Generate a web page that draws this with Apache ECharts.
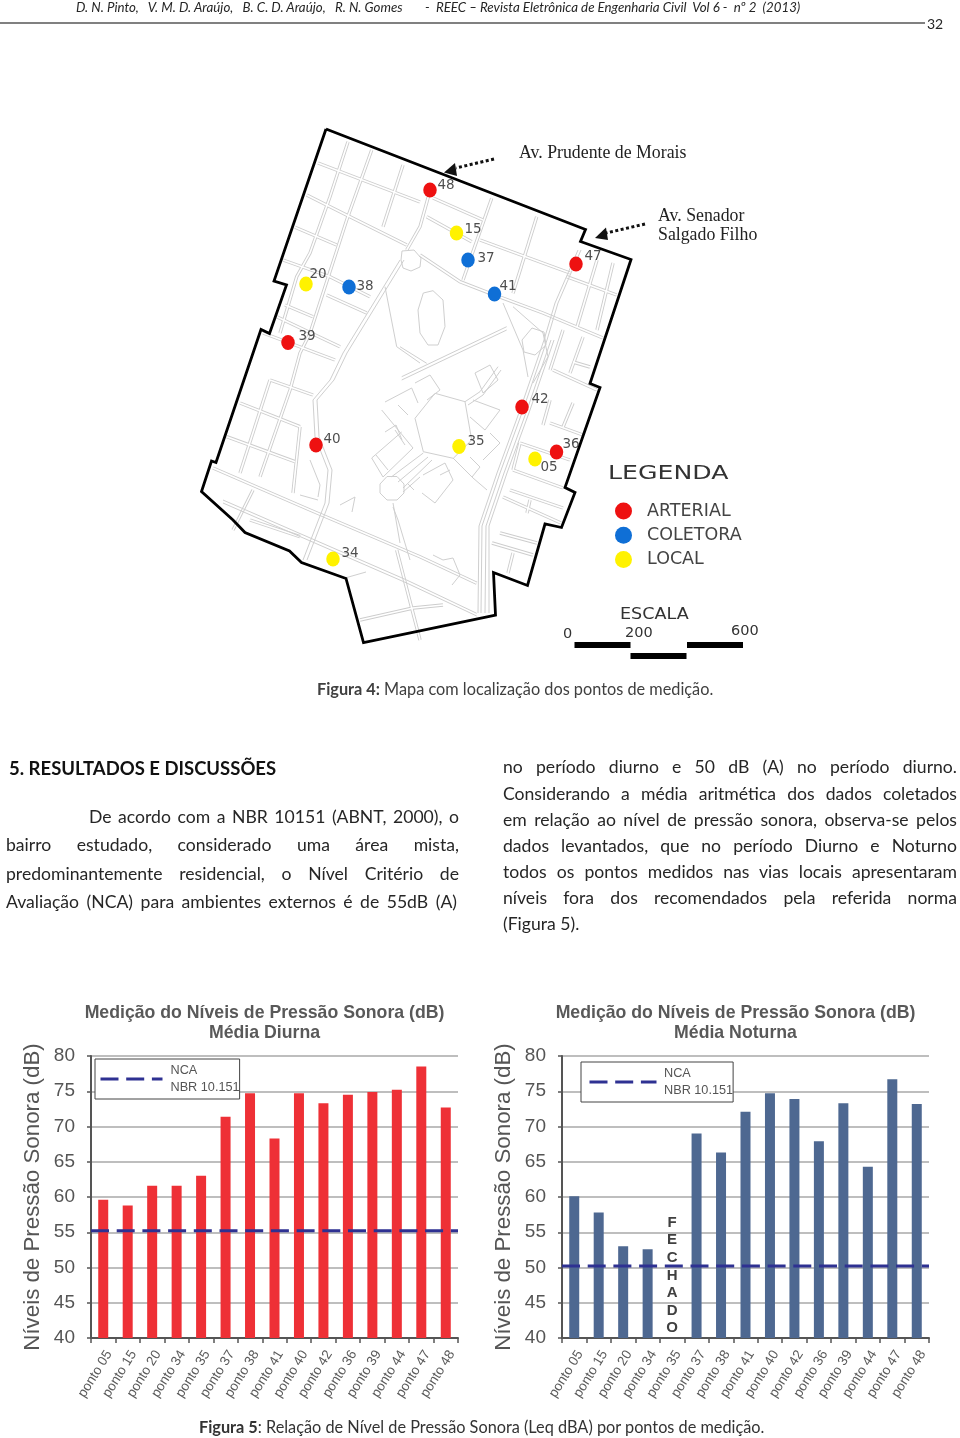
<!DOCTYPE html>
<html>
<head>
<meta charset="utf-8">
<style>
html,body{margin:0;padding:0;background:#fff;}
#page{position:relative;width:960px;height:1438px;overflow:hidden;}
#chart{position:absolute;left:0;top:0;width:960px;height:1438px;}
.ln{position:absolute;height:24px;line-height:24px;font-family:Lato,"Noto Sans",sans-serif;font-size:17.6px;color:#262626;white-space:nowrap;}
.just{text-align:justify;text-align-last:justify;}
</style>
</head>
<body>
<div id="page">
<div id="chart"></div>
</div>
<script src="https://cdn.jsdelivr.net/npm/echarts@6/dist/echarts.min.js"></script>
<script>
// page text
const leftParagraph=[
    "De acordo com a NBR 10151 (ABNT, 2000), o",
    "bairro estudado, considerado uma área mista,",
    "predominantemente residencial, o Nível Critério de",
    "Avaliação (NCA) para ambientes externos é de 55dB (A)"
];
const rightParagraph=[
    "no período diurno e 50 dB (A) no período diurno.",
    "Considerando a média aritmética dos dados coletados",
    "em relação ao nível de pressão sonora, observa-se pelos",
    "dados levantados, que no período Diurno e Noturno",
    "todos os pontos medidos nas vias locais apresentaram",
    "níveis fora dos recomendados pela referida norma",
    "(Figura 5)."
];

// bar charts
const categories=["ponto 05","ponto 15","ponto 20","ponto 34","ponto 35","ponto 37","ponto 38","ponto 41","ponto 40","ponto 42","ponto 36","ponto 39","ponto 44","ponto 47","ponto 48"];
const diurna=[59.6,58.8,61.6,61.6,63.0,71.4,74.7,68.3,74.7,73.3,74.5,74.9,75.2,78.5,72.7];
const noturna=[60.1,57.8,53.0,52.6,null,69.0,66.3,72.1,74.7,73.9,67.9,73.3,64.3,76.7,73.2];
const ncaDiurna=[55.2,55.2];
const ncaNoturna=[50.2,50.2];
const yTicks={min:40,max:80,interval:5};
const NCA_NAME="NCA\nNBR 10.151";

// map, in page pixels
const arterial=[[430,190],[576,264],[288,342.5],[522,407],[316,445],[556.5,452]];
const coletora=[[468,260],[494.5,294],[349,287]];
const local=[[456.5,233],[306,284],[459,446.5],[535,459],[333,559]];
const pointLabels=[
    ["48",446,185],["15",473,229],["37",486,258],["41",508,286],["47",593,256],
    ["20",318,274],["38",365,286],["39",307,336],["42",540,399],["40",332,439],
    ["35",476,441],["36",571,444],["05",549,467],["34",350,553]
];
const outline=[[326,129],[585.5,229.5],[580.5,241.5],[631,259.5],[590,383.5],[600,387.5],[565,487.5],[575,492.5],[561.5,527.5],[545,524],[527.5,585.5],[493.5,572.5],[495.5,615],[363.5,642.5],[346,578.5],[301.5,562.5],[289.5,551],[245,532.5],[233,520],[201.5,491.5],[211.5,461],[216,462.5],[261,329.5],[269.5,333.5],[286.5,285],[274,281],[326,129]];
const roads=[
    [[318,163],[420,202]],
    [[433,198],[483,220]],
    [[306.7,195],[350,216.7],[406.7,245]],
    [[426.7,216.7],[471.7,241.7]],
    [[480,240],[570,273]],
    [[295,227.3],[336.7,245]],
    [[283,260],[330,276.7],[370,296.7]],
    [[276.7,316.7],[340,346.7]],
    [[263,333],[335,360]],
    [[285,305],[313,316.7]],
    [[326.7,295],[366.7,313]],
    [[420,255],[460,281.7],[490,293.3],[543,313],[603,338]],
    [[566.7,276.7],[616.7,295]],
    [[348,141.7],[330,196.7],[310,253],[296.7,276.7],[280,333]],
    [[371.7,150],[346.7,220],[310,333.3],[300,353],[290,390],[260,476.7]],
    [[403,165],[383,226.7]],
    [[491.7,198.3],[463,280]],
    [[536.7,216.7],[513,293.3]],
    [[430,190.7],[420,226.7],[406.7,250]],
    [[270,380],[240,473]],
    [[240,403],[300,426.7]],
    [[226.7,436.7],[295,461.7]],
    [[270,380],[313,395]],
    [[300,426.7],[293,493]],
    [[213,468],[310,510],[420,556.7],[476.7,583.3]],
    [[250,520],[300,536.7]],
    [[396.7,550],[413,613],[420,640]],
    [[360,620],[413,608],[443,605]],
    [[253,490],[233,530]],
    [[513,470],[563,488]],
    [[520,443],[570,460]],
    [[550,423],[583,435]],
    [[510,490],[563,508]],
    [[503,497],[561,523]],
    [[500,533],[537,543]],
    [[492,543],[533,555]],
    [[513,553],[508,573]],
    [[553,370],[597,390]],
    [[573,362],[590,367]],
    [[583,337],[570,373]],
    [[563,330],[550,370]],
    [[613,263],[597,330]],
    [[597,260],[577,327]],
    [[550,400],[543,425]],
    [[573,403],[563,427]],
    [[520,443],[513,470]],
    [[530,500],[527,513]]
];
const paths=[
    [[578,250],[555,303],[544,340],[520,410],[497,473],[479,526],[478,613]],
    [[581,250],[558,303],[547,340],[523,410],[500,473],[482,526],[481,613]],
    [[551,340],[527,410],[504,473],[486,526],[485,613]],
    [[554,340],[530,410],[507,473],[489,526],[489,613]],
    [[400,260],[343,353],[330,380],[313,400],[315,436.7],[328,470],[325,503],[303,560]],
    [[404,260],[347,353],[334,380],[317,400],[319,436.7],[332,470],[329,503],[307,560]],
    [[223,500],[406.7,580],[476.7,613.3]],
    [[223,503],[406.7,583],[476.7,616]],
    [[402,251],[414,250],[421,258],[420,267],[411,271],[403,268],[401,260],[402,251]],
    [[423.3,293],[433,290.7],[443,300],[445,326.7],[438,345],[428,345],[420,333],[418,310],[423.3,293]],
    [[385,286.7],[396.7,346.7],[420,363]],
    [[400,346.7],[426.7,363.3]],
    [[401.7,376.7],[506.7,326.7]],
    [[401.7,380],[506.7,330]],
    [[503,303],[523,350],[528,377]],
    [[513,306.7],[543,333],[548,356.7],[533,383]],
    [[522,340],[532,328],[544,332],[546,345],[535,355],[524,352],[522,340]],
    // campus
    [[415,418.3],[435,393.3],[465,401.7],[471.7,440],[453.3,458.3],[423.3,451.7],[415,418.3]],
    [[423.3,453],[391.7,476.7]],
    [[428,457],[398,482]],
    [[432,460],[403,488]],
    [[380,484],[387,476.5],[397,476.5],[404,484],[404,493],[397,500],[387,500],[380,493],[380,484]],
    [[465,401.7],[480,391.7],[498,366.7]],
    [[468,405],[483,395],[501,370]],
    [[475,373],[490,365],[498,380],[483,393],[475,373]],
    [[453,458],[473,478],[487,490]],
    [[470,457],[480,467],[472,477]],
    [[473,400],[500,410],[485,430],[470,417]],
    [[490,433],[500,443],[483,460]],
    [[381.7,410],[413,448],[383,477],[371.7,458],[401.7,432]],
    [[385,402],[411.7,388],[418,403]],
    [[415,383],[430,375],[440,390],[427,400]],
    [[423,475],[445,463],[453,480],[435,503],[422,493]],
    [[403,492],[420,477]],
    [[393,507],[398,520],[410,560]],
    [[398,405],[408,415]],
    [[405,445],[395,430]],
    [[376,455],[388,470]],
    [[440,475],[450,470]],
    [[385,432],[396,425],[402,440]],
    [[408,484],[414,490]],
    // south of campus
    [[393,503],[400,543]],
    [[433,555],[443,560],[453,558],[460,575],[452,585]],
    [[310,460],[320,485],[318,497]],
    [[300,495],[318,500]],
    [[340,505],[355,497],[352,512]],
    [[345,578],[366,572]]
];
const mapAxis={min:190,max:790};
const mapAyis={min:110,max:670};

const RED="#ee3036",BLUE="#4e6891",AXIS="#555555",GRID="#a8a8a8",NAVY="#2e3192";

function addLine(text,left,width,y,justify,css){
    const d=document.createElement("div");
    d.className="ln"+(justify?" just":"");
    d.style.left=left+"px";
    d.style.top=(y-12)+"px";
    if(width) d.style.width=width+"px";
    if(css) d.style.cssText+=css;
    d.innerHTML=text;
    document.getElementById("page").appendChild(d);
}
addLine("D. N. Pinto,&nbsp;&nbsp; V. M. D. Araújo,&nbsp;&nbsp; B. C. D. Araújo,&nbsp;&nbsp; R. N. Gomes",76,0,7,false,"font-size:13.3px;font-style:italic;");
addLine("-&nbsp; REEC – Revista Eletrônica de Engenharia Civil&nbsp; Vol 6 -&nbsp; nº 2&nbsp; (2013)",425,0,7,false,"font-size:13.3px;font-style:italic;");
addLine("32",927,0,24,false,"font-size:14px;");
addLine("<b>Figura 4:</b> Mapa com localização dos pontos de medição.",317,0,689,false,"font-size:16.3px;color:#404040;");
addLine("<b>5. RESULTADOS E DISCUSSÕES</b>",9,0,768,false,"font-size:18.5px;color:#111;");
[817,845,874,902].forEach((y,i)=>{
    addLine(leftParagraph[i],i==0?89:6,i==0?370:(i==3?451:453),y,true);
});
[767,794,820,846,872,898,924].forEach((y,i)=>{
    addLine(rightParagraph[i],503,i==6?0:454,y,i!=6);
});
addLine("<b>Figura 5</b>: Relação de Nível de Pressão Sonora (Leq dBA) por pontos de medição.",199,0,1427,false,"font-size:16.3px;color:#333;");

function catAxis(gridIndex){
    return {
        type:"category",gridIndex,data:categories,
        axisLine:{lineStyle:{color:AXIS,width:2}},
        axisTick:{show:true,length:5,lineStyle:{color:AXIS,width:1.5}},
        axisLabel:{rotate:58,verticalAlign:"top",fontFamily:"Liberation Sans",fontSize:13.5,color:"#5a5a5a",margin:10,interval:0}
    };
}
function valAxis(gridIndex){
    return {
        type:"value",gridIndex,min:yTicks.min,max:yTicks.max,interval:yTicks.interval,
        name:"Níveis de Pressão Sonora (dB)",nameLocation:"middle",nameRotate:90,nameGap:47,
        nameTextStyle:{fontFamily:"Liberation Sans",fontSize:22.3,color:AXIS},
        axisLine:{show:true,lineStyle:{color:AXIS,width:2}},
        axisTick:{show:true,length:4,lineStyle:{color:AXIS,width:1.5}},
        axisLabel:{fontFamily:"Liberation Sans",fontSize:19,color:AXIS,margin:16},
        splitLine:{show:true,lineStyle:{color:GRID,width:1.6}}
    };
}
function ncaSeries(xAxisIndex,yAxisIndex,data){
    return {
        type:"line",name:NCA_NAME,xAxisIndex,yAxisIndex,data,symbol:"none",z:5,silent:true,
        lineStyle:{color:NAVY,width:3,type:[18,7.7]},itemStyle:{color:NAVY}
    };
}
function titleOf(text,x,y){
    return {text,left:x,top:y,textAlign:"center",padding:0,
        textStyle:{fontFamily:"Liberation Sans",fontSize:17.7,fontWeight:"bold",color:"#595959"}};
}
function ncaLegend(left,top,padLeft,iconWidth,padText){
    return {
        data:[NCA_NAME],left,top,selectedMode:false,orient:"horizontal",
        itemWidth:iconWidth,itemHeight:12,padding:[3,0,3,padLeft],
        itemStyle:{opacity:0},
        lineStyle:{color:NAVY,width:3,type:[18,7.7]},
        backgroundColor:"#fff",borderColor:"#444",borderWidth:1,borderRadius:0,
        textStyle:{fontFamily:"Liberation Sans",fontSize:12.7,lineHeight:17,color:"#555",padding:[0,0,0,padText]}
    };
}
function streetSeries(data,color,width,z){
    return {
        type:"lines",coordinateSystem:"cartesian2d",xAxisIndex:4,yAxisIndex:2,polyline:true,silent:true,z,
        data:data.map(coords=>({coords})),
        lineStyle:{color,width,opacity:1}
    };
}
function pointSeries(name,data,color){
    return {
        type:"scatter",name,xAxisIndex:4,yAxisIndex:2,data,symbol:"circle",symbolSize:[13.5,15],z:8,silent:true,
        itemStyle:{color,opacity:1}
    };
}
function mapText(text,x,y,font,size,color,sx){
    return {type:"text",x,y,scaleX:sx||1,style:{text,fontFamily:font,fontSize:size,fill:color,verticalAlign:"middle"}};
}
function arrow(x1,y1,x2,y2,tip,b1,b2){
    return [
        {type:"line",shape:{x1,y1,x2,y2},style:{stroke:"#111",lineWidth:3,lineDash:[3,2.5]}},
        {type:"polygon",shape:{points:[tip,b1,b2]},style:{fill:"#111"}}
    ];
}

const option={
    animation:false,
    backgroundColor:"#fff",
    title:[
        titleOf("Medição do Níveis de Pressão Sonora (dB)",264.5,1004),
        titleOf("Média Diurna",264.5,1024),
        titleOf("Medição do Níveis de Pressão Sonora (dB)",735.5,1004),
        titleOf("Média Noturna",735.5,1024)
    ],
    legend:[
        ncaLegend(95,1059,4,62,3),
        ncaLegend(581,1062,7,67,2.5),
        {
            data:["ARTERIAL","COLETORA","LOCAL"],left:615,top:502,orient:"vertical",selectedMode:false,
            icon:"circle",itemWidth:17,itemHeight:17,itemGap:6.3,padding:0,
            textStyle:{fontFamily:"DejaVu Sans",fontSize:17.5,color:"#444",padding:[0,0,0,10]}
        }
    ],
    grid:[
        {left:91,top:1056,width:367,height:282},
        {left:562,top:1056,width:367,height:282},
        {left:190,top:110,width:600,height:560}
    ],
    xAxis:[
        catAxis(0),
        {type:"category",gridIndex:0,show:false,boundaryGap:false,data:["a","b"]},
        catAxis(1),
        {type:"category",gridIndex:1,show:false,boundaryGap:false,data:["a","b"]},
        {type:"value",gridIndex:2,show:false,min:mapAxis.min,max:mapAxis.max}
    ],
    yAxis:[
        valAxis(0),
        valAxis(1),
        {type:"value",gridIndex:2,show:false,inverse:true,min:mapAyis.min,max:mapAyis.max}
    ],
    series:[
        {type:"bar",name:"Média Diurna",xAxisIndex:0,yAxisIndex:0,data:diurna,barWidth:10,itemStyle:{color:RED},silent:true},
        ncaSeries(1,0,ncaDiurna),
        {type:"bar",name:"Média Noturna",xAxisIndex:2,yAxisIndex:1,data:noturna,barWidth:10,itemStyle:{color:BLUE},silent:true,
            markPoint:{
                symbol:"circle",symbolSize:0,silent:true,
                data:[{coord:["ponto 35",40]}],
                label:{show:true,position:"top",distance:1,formatter:"F\nE\nC\nH\nA\nD\nO",
                    fontFamily:"Liberation Sans",fontWeight:"bold",fontSize:15,lineHeight:17.6,color:"#404040"}
            }
        },
        ncaSeries(3,1,ncaNoturna),
        streetSeries(roads,"#cdcdcd",3.4,2),
        streetSeries(roads,"#ffffff",1.6,3),
        streetSeries(paths,"#cfcfcf",1,4),
        streetSeries([outline],"#000000",2.8,6),
        pointSeries("ARTERIAL",arterial,"#ee1111"),
        pointSeries("COLETORA",coletora,"#0f6fd6"),
        pointSeries("LOCAL",local,"#fff200"),
        {
            type:"scatter",name:"rotulos",xAxisIndex:4,yAxisIndex:2,silent:true,z:9,
            symbolSize:1,itemStyle:{color:"transparent"},
            data:pointLabels.map(p=>({name:p[0],value:[p[1],p[2]]})),
            label:{show:true,position:"inside",formatter:"{b}",fontFamily:"DejaVu Sans",fontSize:13.5,color:"#222"}
        }
    ],
    graphic:[
        {type:"line",shape:{x1:0,y1:23,x2:925,y2:23},style:{stroke:"#808080",lineWidth:2}},
        mapText("Av. Prudente de Morais",519,153,"Liberation Serif",17.8,"#222"),
        mapText("Av. Senador",658,216,"Liberation Serif",17.8,"#222"),
        mapText("Salgado Filho",658,235,"Liberation Serif",17.8,"#222"),
        mapText("LEGENDA",608,474,"DejaVu Sans",20,"#333",1.26),
        mapText("ESCALA",620,615,"DejaVu Sans",15,"#333",1.17),
        mapText("0",563,634,"DejaVu Sans",14.5,"#333"),
        mapText("200",625,633,"DejaVu Sans",14.5,"#333"),
        mapText("600",731,631,"DejaVu Sans",14.5,"#333"),
        {type:"rect",shape:{x:574.5,y:642,width:56,height:6},style:{fill:"#000"}},
        {type:"rect",shape:{x:630.5,y:653,width:56,height:6},style:{fill:"#000"}},
        {type:"rect",shape:{x:687,y:642,width:56,height:6},style:{fill:"#000"}}
    ].concat(
        arrow(494,159,456,168,[444,172.5],[455,163],[457,176]),
        arrow(645,224,606,233,[595,238],[606,227.5],[608,240])
    )
};

const chart=echarts.init(document.getElementById("chart"));
chart.setOption(option);
</script>
</body>
</html>
